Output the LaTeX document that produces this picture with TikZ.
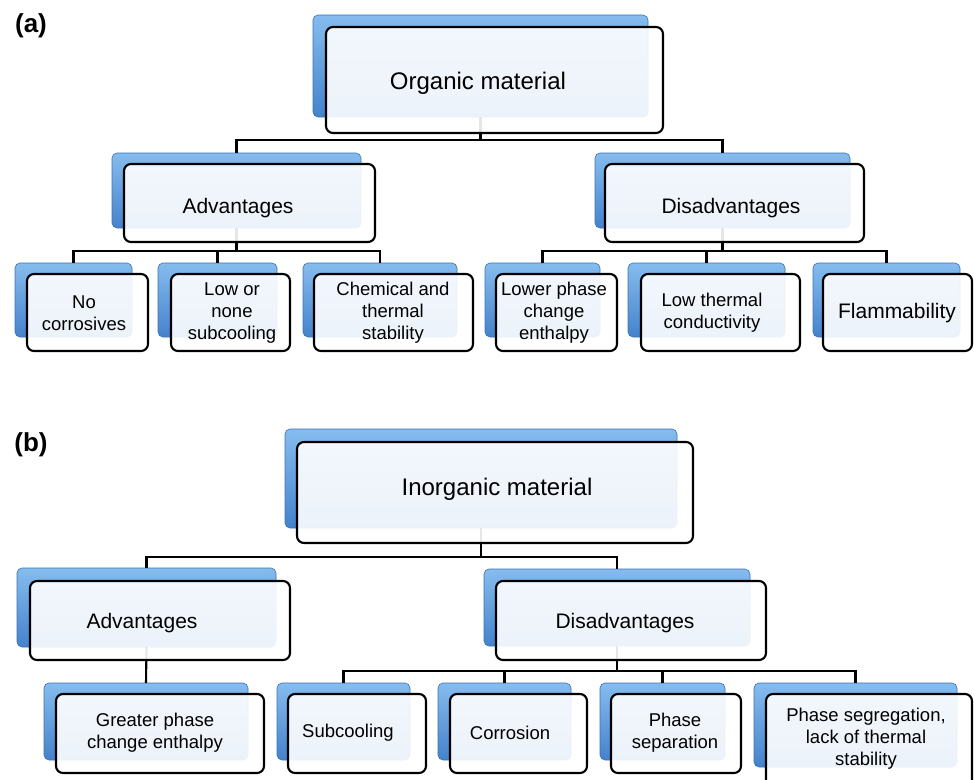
\documentclass[tikz,border=0pt]{standalone}
\usepackage{fontspec}
\setmainfont{Liberation Sans}
\definecolor{tabtop}{HTML}{86BCEE}
\definecolor{tabbot}{HTML}{4482CB}
\definecolor{tabedge}{HTML}{3A72B6}
\newcommand\tabbox[5]{\node[tab, anchor=north west, minimum width={(#4-#2)*1pt}, minimum height={(#5-#3)*1pt}] (#1) at (#2,#3) {};}
\newcommand\frontbox[5]{\node[front, anchor=north west, minimum width={(#4-#2)*1pt}, minimum height={(#5-#3)*1pt}] (#1) at (#2,#3) {};}
\begin{document}
\begin{tikzpicture}[x=1pt,y=-1pt,
 tab/.style={rectangle, inner sep=0pt, outer sep=0pt, rounded corners=5pt, top color=tabtop, bottom color=tabbot, draw=tabedge, line width=0.6pt},
 front/.style={rectangle, inner sep=0pt, outer sep=0pt, rounded corners=7pt, draw=black, line width=2.1pt, fill=white, fill opacity=0.9},
 conn/.style={draw=black, line width=2.1pt},
 big/.style={font=\fontsize{24}{27}\selectfont, align=center, inner sep=0pt},
 mid/.style={font=\fontsize{21}{24}\selectfont, align=center, inner sep=0pt},
 small/.style={font=\fontsize{18.5}{22}\selectfont, align=center, inner sep=0pt},
 panel/.style={font=\fontsize{26}{28}\selectfont\bfseries, inner sep=0pt}]
\useasboundingbox (0,0) rectangle (974,779);

% ---------- tabs (a)
\tabbox{orgTab}{313}{15}{648}{117}
\tabbox{advTab}{112}{153}{361}{228}
\tabbox{disTab}{595}{153}{850}{228}
\tabbox{aOneTab}{15}{263}{132}{337}
\tabbox{aTwoTab}{158}{263}{277}{337}
\tabbox{aThreeTab}{303}{263}{457}{337}
\tabbox{dOneTab}{485}{263}{600}{337}
\tabbox{dTwoTab}{628}{263}{785}{337}
\tabbox{dThreeTab}{813}{263}{960}{337}
% ---------- tabs (b)
\tabbox{inoTab}{285}{429}{677}{528}
\tabbox{advbTab}{17}{568}{276}{647}
\tabbox{disbTab}{484}{569}{750}{646}
\tabbox{gTab}{44}{683}{248}{760}
\tabbox{subTab}{277}{683}{410}{760}
\tabbox{corTab}{438}{683}{571}{760}
\tabbox{psTab}{600}{683}{725}{760}
\tabbox{segTab}{754}{683}{957}{767}

% ---------- connectors (a)
\draw[conn] (orgTab.south) -- ++(0,23) -| (advTab.north);
\draw[conn] (orgTab.south) -- ++(0,23) -| (disTab.north);
\draw[conn] (advTab.south) -- ++(0,23) -| (aOneTab.north);
\draw[conn] (advTab.south) -- ++(0,23) -| (aTwoTab.north);
\draw[conn] (advTab.south) -- ++(0,23) -| (aThreeTab.north);
\draw[conn] (disTab.south) -- ++(0,23) -| (dOneTab.north);
\draw[conn] (disTab.south) -- ++(0,23) -| (dTwoTab.north);
\draw[conn] (disTab.south) -- ++(0,23) -| (dThreeTab.north);
% ---------- connectors (b)
\draw[conn] (inoTab.south) -- ++(0,29) -| (advbTab.north);
\draw[conn] (inoTab.south) -- ++(0,29) -| (disbTab.north);
\draw[conn] (advbTab.south) -- (gTab.north);
\draw[conn] (disbTab.south) -- ++(0,25) -| (subTab.north);
\draw[conn] (disbTab.south) -- ++(0,25) -| (corTab.north);
\draw[conn] (disbTab.south) -- ++(0,25) -| (psTab.north);
\draw[conn] (disbTab.south) -- ++(0,25) -| (segTab.north);

% ---------- front boxes (a)
\frontbox{org}{326}{27}{663}{133}
\frontbox{adv}{124}{164}{375}{242}
\frontbox{dis}{605}{164}{864}{242}
\frontbox{aOne}{27}{274}{148}{351}
\frontbox{aTwo}{171}{274}{290}{351}
\frontbox{aThree}{314}{274}{473}{351}
\frontbox{dOne}{496}{274}{617}{351}
\frontbox{dTwo}{641}{274}{800}{351}
\frontbox{dThree}{823}{274}{972}{351}
% ---------- front boxes (b)
\frontbox{ino}{297}{442}{693}{543}
\frontbox{advb}{30}{581}{290}{660}
\frontbox{disb}{496}{581}{766}{660}
\frontbox{g}{56}{694}{264}{773}
\frontbox{sub}{288}{694}{426}{773}
\frontbox{cor}{450}{694}{587}{773}
\frontbox{ps}{611}{694}{741}{773}
\frontbox{seg}{766}{694}{972}{790}

% ---------- texts
\node[panel] (la) at (31,26) {(a)};
\node[panel] (lb) at (31,445) {(b)};

\node[big] (orgT) at (478,83) {Organic material};
\node[mid] (advT) at (238,208) {Advantages};
\node[mid] (disT) at (731,208) {Disadvantages};
\node[small] (aOneT) at (84,313) {No\\corrosives};
\node[small] (aTwoT) at (232,313) {Low or\\none\\subcooling};
\node[small] (aThreeT) at (393,313) {Chemical and\\thermal\\stability};
\node[small] (dOneT) at (554,313) {Lower phase\\change\\enthalpy};
\node[small] (dTwoT) at (712,313) {Low thermal\\conductivity};
\node[mid] (dThreeT) at (897,313) {Flammability};

\node[big] (inoT) at (497,489) {Inorganic material};
\node[mid] (advbT) at (142,623) {Advantages};
\node[mid] (disbT) at (625,623) {Disadvantages};
\node[small] (gT) at (155,733) {Greater phase\\change enthalpy};
\node[small] (subT) at (348,733) {Subcooling};
\node[small] (corT) at (510,733) {Corrosion};
\node[small] (psT) at (675,733) {Phase\\separation};
\node[small] (segT) at (866,739) {Phase segregation,\\lack of thermal\\stability};
\end{tikzpicture}
\end{document}
